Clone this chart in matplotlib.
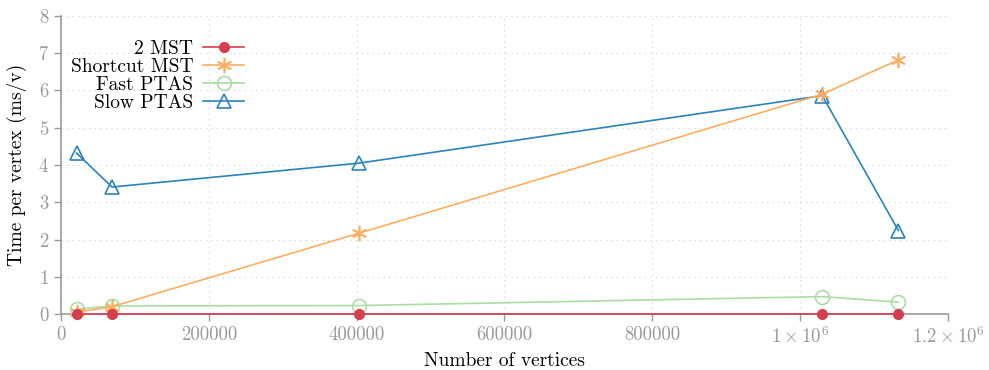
import matplotlib
matplotlib.use('Agg')
import matplotlib.pyplot as plt

plt.rcParams['font.family'] = ['cmr10', 'DejaVu Serif']
plt.rcParams['mathtext.fontset'] = 'cm'
plt.rcParams['axes.formatter.use_mathtext'] = True

# graph sizes (number of vertices) and time per vertex in ms
vertices = [21000, 69000, 403000, 1030000, 1133000]
two_mst = [0.0, 0.0, 0.0, 0.0, 0.0]
shortcut_mst = [0.05, 0.2, 2.17, 5.9, 6.82]
fast_ptas = [0.13, 0.22, 0.23, 0.47, 0.32]
slow_ptas = [4.32, 3.41, 4.05, 5.86, 2.24]

xticks = [0, 200000, 400000, 600000, 800000, 1000000, 1200000]
xtick_labels = ['0', '200000', '400000', '600000', '800000',
                r'$1\times10^6$', r'$1.2\times10^6$']
yticks = [0, 1, 2, 3, 4, 5, 6, 7, 8]

red = '#d53e4f'
orange = '#fdae61'
green = '#abdda4'
blue = '#2b83ba'
gray = '#999999'

fig = plt.figure(figsize=(9.89, 3.70), dpi=100)
ax = fig.add_axes([0.0617, 0.151, 0.8968, 0.806])

ax.plot(vertices, slow_ptas, color=blue, lw=1.2, marker='^', ms=10,
        mfc='none', mew=1.2, label='Slow PTAS', zorder=3, clip_on=False)
ax.plot(vertices, fast_ptas, color=green, lw=1.2, marker='o', ms=10,
        mfc='none', mew=1.2, label='Fast PTAS', zorder=4, clip_on=False)
ax.plot(vertices, shortcut_mst, color=orange, lw=1.2, marker=(6, 2, 0),
        ms=11, mew=1.2, label='Shortcut MST', zorder=5, clip_on=False)
ax.plot(vertices, two_mst, color=red, lw=1.2, marker='o', ms=7,
        label='2 MST', zorder=6, clip_on=False)

ax.set_xlim(0, 1200000)
ax.set_ylim(0, 8)
ax.set_xticks(xticks)
ax.set_xticklabels(xtick_labels)
ax.set_yticks(yticks)

ax.grid(True, linestyle=(0, (1, 4)), color='#d0d0d0', lw=0.8)
for side in ['top', 'right']:
    ax.spines[side].set_visible(False)
for side in ['left', 'bottom']:
    ax.spines[side].set_color(gray)
    ax.spines[side].set_linewidth(1.2)
ax.tick_params(colors=gray, labelcolor=gray, labelsize=13.5,
               direction='out', length=5, width=1.0)

ax.set_xlabel('Number of vertices', fontsize=14, labelpad=4)
ax.set_ylabel('Time per vertex (ms/v)', fontsize=14, labelpad=8)

handles, labels = ax.get_legend_handles_labels()
ax.legend(handles[::-1], labels[::-1], loc='upper right',
          bbox_to_anchor=(0.215, 0.945), frameon=False, markerfirst=False,
          fontsize=14, labelspacing=0.0, handlelength=2.1,
          handletextpad=0.5, borderaxespad=0.0)

fig.savefig('out.png', dpi=100)
